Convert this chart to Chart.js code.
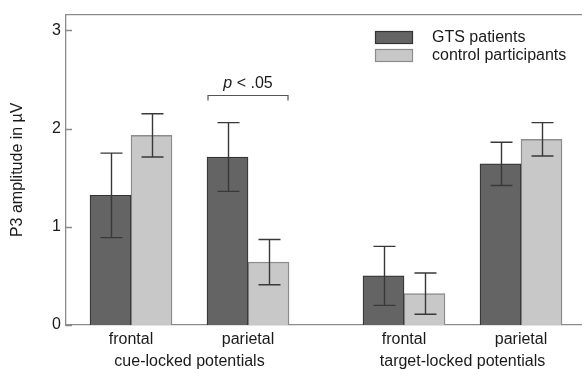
<!DOCTYPE html>
<html>
<head>
<meta charset="utf-8">
<script src="https://cdn.jsdelivr.net/npm/chart.js@4.4.1/dist/chart.umd.min.js"></script>
<style>
  html, body { margin: 0; padding: 0; background: #fff; }
  canvas { display: block; }
</style>
</head>
<body>
<canvas id="p3Chart" width="582" height="369"></canvas>
<script>
const sites = ['frontal', 'parietal', 'frontal', 'parietal'];
const epochs = ['cue-locked potentials', 'target-locked potentials'];
const seriesNames = ['GTS patients', 'control participants'];
const gtsMean = [1.32, 1.71, 0.50, 1.64];
const gtsSem = [0.43, 0.35, 0.30, 0.22];
const ctrlMean = [1.93, 0.64, 0.32, 1.89];
const ctrlSem = [0.22, 0.23, 0.21, 0.17];
const yTicks = [0, 1, 2, 3];
const sigLabel = ['p', ' < .05'];
const sigSite = 1;       // cue-locked parietal
const sigLevel = 2.34;   // bracket height in µV

// where each bar pair sits on the x axis (leaves the gap between epochs)
const slots = [0, 3, 7, 10];
const epochSlots = [1.5, 8.5];

const FONT = 'Liberation Sans, Arial, sans-serif';
const dark = { fill: '#646464', line: '#333333' };
const light = { fill: '#c8c8c8', line: '#8c8c8c' };

const extras = {
  id: 'extras',
  afterDatasetsDraw(chart) {
    const { ctx, chartArea: a, scales: { y } } = chart;
    ctx.save();

    // top frame line + inward ticks
    ctx.strokeStyle = '#8a8a8a';
    ctx.lineWidth = 1.3;
    ctx.beginPath();
    ctx.moveTo(a.left, a.top);
    ctx.lineTo(a.right, a.top);
    y.ticks.forEach(t => {
      const py = Math.round(y.getPixelForValue(t.value)) + 0.5;
      ctx.moveTo(a.left, py);
      ctx.lineTo(a.left + 6, py);
    });
    ctx.stroke();

    // error bars
    ctx.strokeStyle = '#383838';
    ctx.lineWidth = 1.4;
    chart.data.datasets.forEach((ds, di) => {
      chart.getDatasetMeta(di).data.forEach((bar, i) => {
        const v = ds.data[i].y;
        const top = y.getPixelForValue(v + ds.sem[i]);
        const bot = y.getPixelForValue(v - ds.sem[i]);
        const cx = Math.round(bar.x) + 0.5;
        ctx.beginPath();
        ctx.moveTo(cx, top); ctx.lineTo(cx, bot);
        ctx.moveTo(cx - 11, top); ctx.lineTo(cx + 11, top);
        ctx.moveTo(cx - 11, bot); ctx.lineTo(cx + 11, bot);
        ctx.stroke();
      });
    });

    // significance bracket
    const b0 = chart.getDatasetMeta(0).data[sigSite];
    const b1 = chart.getDatasetMeta(1).data[sigSite];
    const x0 = b0.x - b0.width / 2 + 1;
    const x1 = b1.x + b1.width / 2 - 1;
    const by = Math.round(y.getPixelForValue(sigLevel)) + 0.5;
    ctx.strokeStyle = '#555';
    ctx.lineWidth = 1.2;
    ctx.beginPath();
    ctx.moveTo(x0, by + 5); ctx.lineTo(x0, by); ctx.lineTo(x1, by); ctx.lineTo(x1, by + 5);
    ctx.stroke();
    ctx.fillStyle = '#1a1a1a';
    ctx.textBaseline = 'alphabetic';
    ctx.textAlign = 'left';
    ctx.font = 'italic 16px ' + FONT;
    const w0 = ctx.measureText(sigLabel[0]).width;
    ctx.font = '16px ' + FONT;
    const w1 = ctx.measureText(sigLabel[1]).width;
    const tx = (x0 + x1) / 2 - (w0 + w1) / 2;
    ctx.font = 'italic 16px ' + FONT;
    ctx.fillText(sigLabel[0], tx, by - 8);
    ctx.font = '16px ' + FONT;
    ctx.fillText(sigLabel[1], tx + w0, by - 8);

    // legend
    [dark, light].forEach((c, i) => {
      const ly = 31 + i * 18;
      ctx.fillStyle = c.fill;
      ctx.fillRect(375, ly, 38, 13);
      ctx.strokeStyle = c.line;
      ctx.lineWidth = 1.2;
      ctx.strokeRect(375.5, ly + 0.5, 37, 12);
      ctx.fillStyle = '#1a1a1a';
      ctx.textBaseline = 'middle';
      ctx.fillText(seriesNames[i], 432, ly + 7);
    });

    ctx.restore();
  }
};

new Chart(document.getElementById('p3Chart'), {
  type: 'bar',
  data: {
    datasets: [
      {
        label: seriesNames[0],
        data: gtsMean.map((v, i) => ({ x: slots[i], y: v })),
        sem: gtsSem,
        backgroundColor: dark.fill,
        borderColor: dark.line,
        borderWidth: 1.2
      },
      {
        label: seriesNames[1],
        data: ctrlMean.map((v, i) => ({ x: slots[i], y: v })),
        sem: ctrlSem,
        backgroundColor: light.fill,
        borderColor: light.line,
        borderWidth: 1.4
      }
    ]
  },
  options: {
    responsive: false,
    animation: false,
    barThickness: 41,
    layout: { padding: { top: 11, right: 0, left: 0, bottom: 0 } },
    plugins: { legend: { display: false }, tooltip: { enabled: false } },
    scales: {
      x: {
        type: 'linear',
        position: 'bottom',
        weight: 0,
        min: -1.667,
        max: 11.564,
        offset: false,
        grid: { display: false, drawTicks: false, offset: false },
        border: { display: true, color: '#8a8a8a', width: 1.3 },
        afterBuildTicks: s => { s.ticks = slots.map(v => ({ value: v })); },
        afterFit: s => { s.height = 22; },
        ticks: {
          autoSkip: false,
          maxRotation: 0,
          padding: 5,
          color: '#1a1a1a',
          font: { family: FONT, size: 16 },
          callback: (v, i) => sites[i]
        }
      },
      x2: {
        type: 'linear',
        position: 'bottom',
        axis: 'x',
        weight: 1,
        min: -1.667,
        max: 11.564,
        offset: false,
        grid: { display: false, drawTicks: false },
        border: { display: false },
        afterBuildTicks: s => { s.ticks = epochSlots.map(v => ({ value: v })); },
        afterFit: s => { s.height = 22; },
        ticks: {
          autoSkip: false,
          maxRotation: 0,
          padding: 5,
          color: '#1a1a1a',
          font: { family: FONT, size: 16 },
          callback: (v, i) => epochs[i]
        }
      },
      y: {
        min: 0,
        max: 3.16,
        grid: { display: false, drawTicks: false },
        border: { display: true, color: '#8a8a8a', width: 1.3 },
        afterBuildTicks: s => { s.ticks = yTicks.map(v => ({ value: v })); },
        afterFit: s => { s.width = 66; },
        ticks: {
          padding: 5,
          color: '#1a1a1a',
          font: { family: FONT, size: 16 }
        },
        title: {
          display: true,
          text: 'P3 amplitude in µV',
          color: '#1a1a1a',
          font: { family: FONT, size: 16 },
          padding: { top: 8, bottom: 0 }
        }
      }
    }
  },
  plugins: [extras]
});
</script>
</body>
</html>
